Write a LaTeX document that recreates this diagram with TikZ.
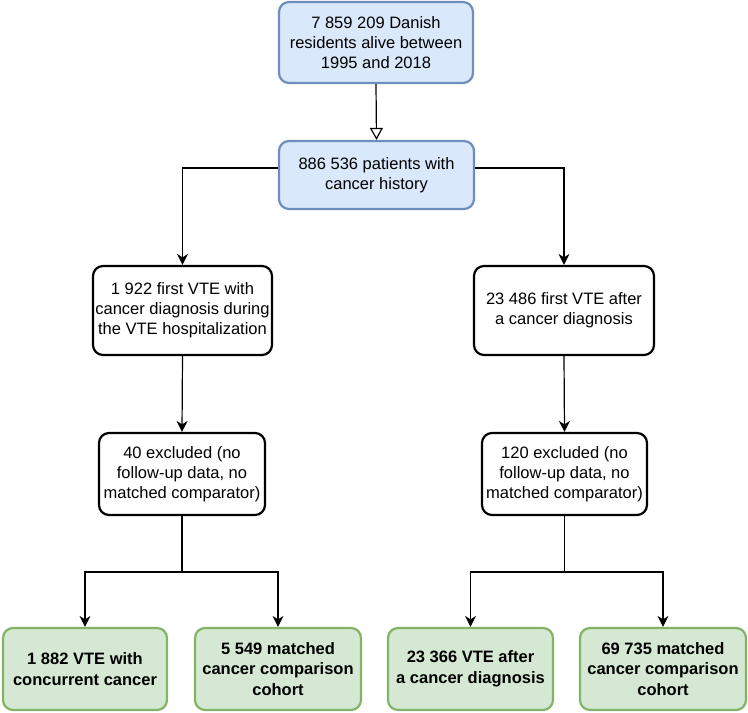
\documentclass[tikz,border=0pt]{standalone}
\usepackage{fontspec}
\setmainfont{Liberation Sans}
\usetikzlibrary{arrows.meta}

\definecolor{boxblue}{HTML}{DAE8FC}
\definecolor{lineblue}{HTML}{6C8EBF}
\definecolor{boxgreen}{HTML}{D5E8D4}
\definecolor{linegreen}{HTML}{82B366}

\begin{document}
\begin{tikzpicture}[x=1pt,y=-1pt,
    flowbox/.style={rectangle, rounded corners=10pt, align=center,
    font=\fontsize{16.5}{20}\selectfont, inner sep=2pt},
    bluebox/.style={flowbox, fill=boxblue, draw=lineblue, line width=2.2pt},
    plainbox/.style={flowbox, fill=white, draw=black, line width=2.2pt},
    greenbox/.style={flowbox, fill=boxgreen, draw=linegreen, line width=2.2pt,
    font=\fontsize{16.5}{20.5}\selectfont\bfseries},
    flow/.style={line width=1.2pt, -{Stealth[length=11pt,width=11pt,inset=3.5pt]}}]

    \useasboundingbox (0,0) rectangle (748,713);

    \node[bluebox, minimum width=194pt, minimum height=81pt] at (376,42.5) (Pop)
        {7 859 209 Danish\\residents alive between\\1995 and 2018};
    \node[bluebox, minimum width=195pt, minimum height=68pt] at (376.5,175) (Canc)
        {886 536 patients with\\cancer history};

    \node[plainbox, minimum width=179pt, minimum height=89pt] at (182.5,310.5) (VTEin)
        {1 922 first VTE with\\cancer diagnosis during\\the VTE hospitalization};
    \node[plainbox, minimum width=180pt, minimum height=89pt] at (564,310.5) (VTEafter)
        {23 486 first VTE after\\a cancer diagnosis};

    \node[plainbox, minimum width=166pt, minimum height=82pt] at (182,474) (ExclIn)
        {40 excluded (no\\follow-up data, no\\matched comparator)};
    \node[plainbox, minimum width=165pt, minimum height=82pt] at (564.5,474) (ExclAfter)
        {120 excluded (no\\follow-up data, no\\matched comparator)};

    \node[greenbox, minimum width=164pt, minimum height=82pt] at (85,669) (CohIn)
        {1 882 VTE with\\concurrent cancer};
    \node[greenbox, minimum width=166pt, minimum height=82pt] at (278,669) (CompIn)
        {5 549 matched\\cancer comparison\\cohort};
    \node[greenbox, minimum width=165pt, minimum height=82pt] at (470.5,669) (CohAfter)
        {23 366 VTE after\\a cancer diagnosis};
    \node[greenbox, minimum width=166pt, minimum height=82pt] at (663,669) (CompAfter)
        {69 735 matched\\cancer comparison\\cohort};

    \coordinate (SplitIn) at (182,572);
    \coordinate (SplitAfter) at (564.5,572);

    \draw[line width=1.2pt, -{Triangle[open,length=12pt,width=13pt]}] (Pop.south) -- (Canc.north);
    \draw[flow] ([yshift=7pt]Canc.west) -| (VTEin.north);
    \draw[flow] ([yshift=7pt]Canc.east) -| (VTEafter.north);
    \draw[flow] (VTEin.south) -- (ExclIn.north);
    \draw[flow] (VTEafter.south) -- (ExclAfter.north);

    \draw[line width=1.2pt] (ExclIn.south) -- (SplitIn);
    \draw[flow] (SplitIn) -| (CohIn.north);
    \draw[flow] (SplitIn) -| (CompIn.north);
    \draw[line width=1.2pt] (ExclAfter.south) -- (SplitAfter);
    \draw[flow] (SplitAfter) -| (CohAfter.north);
    \draw[flow] (SplitAfter) -| (CompAfter.north);
\end{tikzpicture}
\end{document}
